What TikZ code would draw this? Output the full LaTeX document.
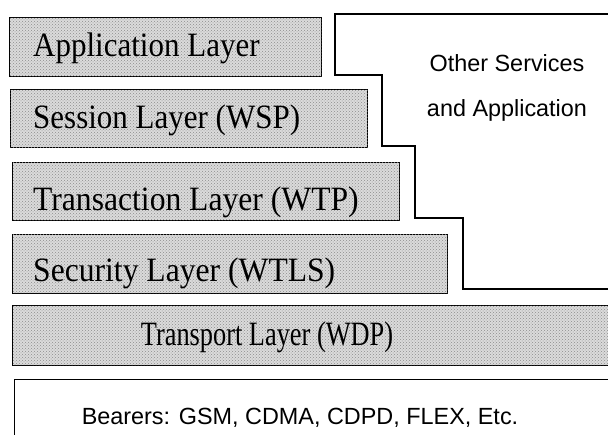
\documentclass[tikz,border=0pt]{standalone}
\usepackage{fontspec}
\setmainfont{Liberation Serif}
\newfontfamily\labelsans{Liberation Sans}
\usetikzlibrary{patterns}

\tikzset{
  layerbox/.style={draw=black, line width=1.3pt, fill=black!14,
    postaction={pattern=crosshatch dots, pattern color=black!45},
    anchor=north west, inner sep=0pt},
  plainbox/.style={draw=black, line width=1.3pt, fill=white,
    anchor=north west, inner sep=0pt},
  layertext/.style={anchor=base west, inner sep=0pt,
    font=\fontsize{31}{36}\selectfont},
  sanstext/.style={inner sep=0pt, font=\labelsans\fontsize{23.4}{27}\selectfont},
}
% layer names are set slightly tall
\newcommand\tallname[2][1]{\scalebox{#1}[1.1]{#2}}

\begin{document}
\begin{tikzpicture}[x=1pt, y=-1pt]
  \useasboundingbox (0,0) rectangle (608,434);
  \clip (0,0) rectangle (608,434);

  % protocol layers, widening towards the bottom
  \node[layerbox, minimum width=312pt, minimum height=59pt] (app) at (9,17) {};
  \node[layerbox, minimum width=357pt, minimum height=58pt] (ses) at (10,89) {};
  \node[layerbox, minimum width=387pt, minimum height=58pt] (trn) at (12,162) {};
  \node[layerbox, minimum width=435pt, minimum height=59pt] (sec) at (12,234) {};
  \node[layerbox, minimum width=620pt, minimum height=60pt] (tsp) at (12,305) {};
  \node[plainbox, minimum width=620pt, minimum height=80pt] (brr) at (14,379) {};

  \node[layertext] (appt) at (33,56) {\tallname{Application Layer}};
  \node[layertext] (sest) at (33,128) {\tallname{Session Layer (WSP)}};
  \node[layertext] (trnt) at (33,210) {\tallname[1.02]{Transaction Layer (WTP)}};
  \node[layertext] (sect) at (33,281) {\tallname[1.02]{Security Layer (WTLS)}};
  \node[layertext, anchor=base] (tspt) at (267,345) {\tallname[0.85]{Transport Layer (WDP)}};
  \node[sanstext] (brrt) at (300,418) {Bearers: GSM, CDMA, CDPD, FLEX, Etc.};

  % stepped outline of the services area beside the layers
  \coordinate (o1) at (625,14);
  \coordinate (o2) at (625,289);
  \draw[line width=1.3pt, line join=miter]
    (o1) -- (335,14) -- (335,75) -- (382,75) -- (382,146) -- (415,146)
    -- (415,218) -- (463,218) -- (463,289) -- (o2);
  \node[sanstext] (oth1) at (507,63) {Other Services};
  \node[sanstext] (oth2) at (507,110) {and Application};
\end{tikzpicture}
\end{document}
